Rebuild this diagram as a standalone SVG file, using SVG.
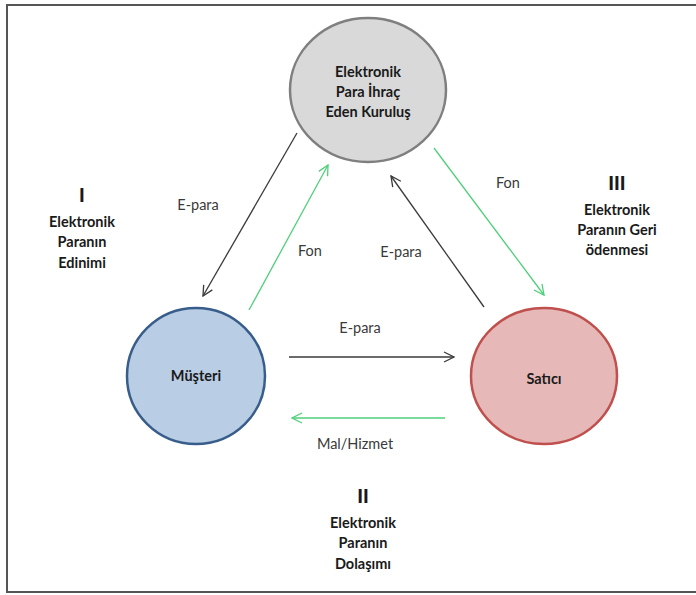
<svg xmlns="http://www.w3.org/2000/svg" width="696" height="595" viewBox="0 0 696 595">
  <style>
    .lbl { font-family: Lato, "Open Sans", "Liberation Sans", sans-serif; font-size: 14.5px; fill: #3a3a3a; text-anchor: middle; }
    .head { font-family: Lato, "Open Sans", "Liberation Sans", sans-serif; font-size: 14.5px; font-weight: bold; fill: #1a1a1a; text-anchor: middle; }
    .roman { font-family: Lato, "Open Sans", "Liberation Sans", sans-serif; font-size: 19px; font-weight: 900; fill: #1a1a1a; text-anchor: middle; }
    .blk { stroke: #3a3a3a; stroke-width: 1.3; fill: none; marker-end: url(#ab); }
    .grn { stroke: #4fcf7a; stroke-width: 1.3; fill: none; marker-end: url(#ag); }
  </style>
  <defs>
    <marker id="ab" viewBox="0 0 12 12" refX="11" refY="6" markerWidth="12" markerHeight="12" markerUnits="userSpaceOnUse" orient="auto">
      <path d="M1,1 L11,6 L1,11" fill="none" stroke="#3a3a3a" stroke-width="1.3"/>
    </marker>
    <marker id="ag" viewBox="0 0 12 12" refX="11" refY="6" markerWidth="12" markerHeight="12" markerUnits="userSpaceOnUse" orient="auto">
      <path d="M1,1 L11,6 L1,11" fill="none" stroke="#4fcf7a" stroke-width="1.3"/>
    </marker>
  </defs>
  <rect width="696" height="595" fill="#fff"/>
  <!-- outer frame -->
  <rect x="7" y="5" width="700" height="587" fill="none" stroke="#555" stroke-width="2"/>

  <g id="connectors">
    <line class="blk" x1="297" y1="133" x2="203" y2="296"/>
    <line class="grn" x1="249" y1="310" x2="328" y2="165"/>
    <line class="grn" x1="434" y1="148" x2="544" y2="295"/>
    <line class="blk" x1="484" y1="307" x2="391" y2="176"/>
    <line class="blk" x1="289" y1="357" x2="454" y2="357"/>
    <line class="grn" x1="445" y1="418" x2="292" y2="418"/>
    <text class="lbl" x="198" y="210">E-para</text>
    <text class="lbl" x="310" y="256">Fon</text>
    <text class="lbl" x="401" y="257">E-para</text>
    <text class="lbl" x="508" y="188">Fon</text>
    <text class="lbl" x="360" y="333">E-para</text>
    <text class="lbl" x="355" y="449">Mal/Hizmet</text>
  </g>

  <g id="issuer">
    <ellipse cx="368" cy="90" rx="78" ry="72" fill="#d9d9d9" stroke="#7f7f7f" stroke-width="2.5"/>
    <text class="head" x="368" y="77">Elektronik</text>
    <text class="head" x="368" y="97">Para İhraç</text>
    <text class="head" x="368" y="117">Eden Kuruluş</text>
  </g>

  <g id="customer">
    <ellipse cx="196" cy="376" rx="69" ry="68" fill="#b9cde5" stroke="#385d8a" stroke-width="2.5"/>
    <text class="head" x="196" y="381">Müşteri</text>
  </g>

  <g id="seller">
    <ellipse cx="544" cy="376" rx="73" ry="68" fill="#e6b9b8" stroke="#c0504d" stroke-width="2.5"/>
    <text class="head" x="544" y="384">Satıcı</text>
  </g>

  <g id="phase-1">
    <text class="roman" x="82" y="202">I</text>
    <text class="head" x="82" y="227">Elektronik</text>
    <text class="head" x="82" y="247">Paranın</text>
    <text class="head" x="82" y="268">Edinimi</text>
  </g>

  <g id="phase-2">
    <text class="roman" x="363" y="503">II</text>
    <text class="head" x="363" y="528">Elektronik</text>
    <text class="head" x="363" y="548">Paranın</text>
    <text class="head" x="363" y="569">Dolaşımı</text>
  </g>

  <g id="phase-3">
    <text class="roman" x="617" y="190">III</text>
    <text class="head" x="617" y="215">Elektronik</text>
    <text class="head" x="617" y="235">Paranın Geri</text>
    <text class="head" x="617" y="255">ödenmesi</text>
  </g>
</svg>
